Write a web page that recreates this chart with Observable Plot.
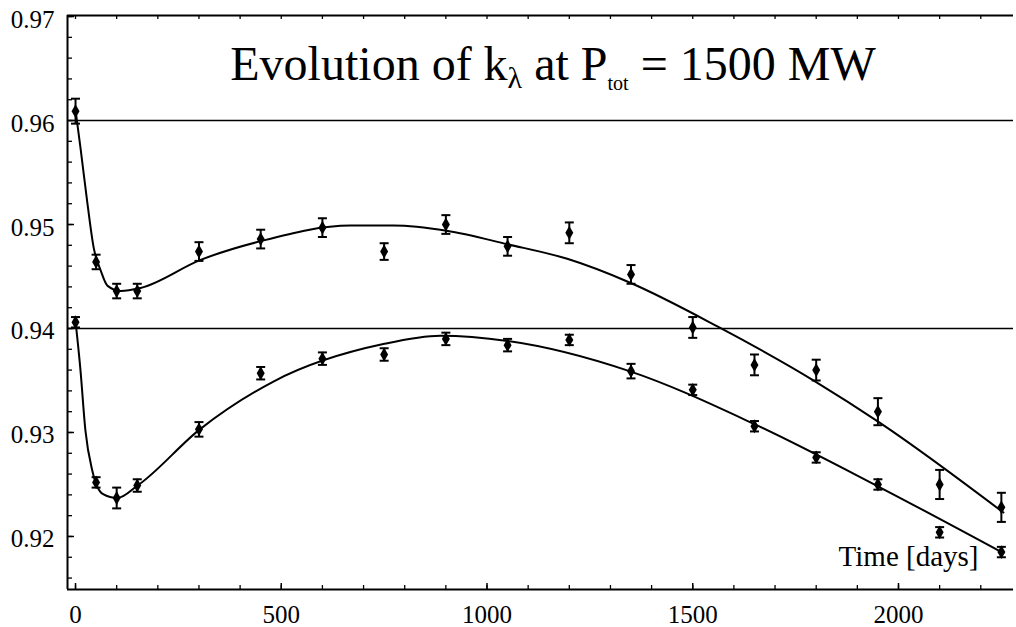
<!DOCTYPE html>
<html>
<head>
<meta charset="utf-8">
<script src="https://cdn.jsdelivr.net/npm/d3@7"></script>
<script src="https://cdn.jsdelivr.net/npm/@observablehq/plot@0.6"></script>
<style>
  html, body { margin: 0; padding: 0; background: #fff; }
  #chart { width: 1016px; height: 627px; }
</style>
</head>
<body>
<div id="chart"></div>
<script>
// ---- data ----
const days = [0, 50, 100, 150, 300, 450, 600, 750, 900, 1050, 1200, 1350, 1500, 1650, 1800, 1950, 2100, 2250];
const upperK   = [0.9609, 0.9464, 0.9436, 0.9436, 0.9474, 0.9486, 0.9497, 0.9474, 0.9500, 0.9479, 0.9492, 0.9452, 0.9401, 0.9365, 0.9360, 0.9320, 0.9250, 0.9228];
const upperErr = [0.0012, 0.0007, 0.0007, 0.0007, 0.0009, 0.0009, 0.0009, 0.0008, 0.0009, 0.0009, 0.0010, 0.0009, 0.0010, 0.0010, 0.0010, 0.0013, 0.0014, 0.0014];
const lowerK   = [0.9406, 0.9252, 0.9237, 0.9249, 0.9303, 0.9357, 0.9371, 0.9375, 0.9390, 0.9384, 0.9389, 0.9359, 0.9341, 0.9306, 0.9276, 0.9250, 0.9204, 0.9185];
const lowerErr = [0.0005, 0.0005, 0.0010, 0.0006, 0.0007, 0.0006, 0.0006, 0.0006, 0.0006, 0.0006, 0.0005, 0.0007, 0.0005, 0.0005, 0.0005, 0.0005, 0.0005, 0.0005];

// fitted curves
const upperFitDays = [0, 12, 29, 44, 61, 78, 110, 158, 304, 450, 668, 773, 902, 1050, 1195, 1348, 1560, 1798, 1956, 2255];
const upperFitK    = [0.9610, 0.9574, 0.9520, 0.9478, 0.9456, 0.9441, 0.9436, 0.9439, 0.9466, 0.9484, 0.9499, 0.9499, 0.9494, 0.9481, 0.9467, 0.9444, 0.9402, 0.9349, 0.9309, 0.9223];
const lowerFitDays = [0, 12, 24, 41, 66, 102, 151, 302, 481, 748, 887, 1050, 1346, 1650, 1951, 2255];
const lowerFitK    = [0.9407, 0.9360, 0.9302, 0.9263, 0.9241, 0.9237, 0.9249, 0.9303, 0.9349, 0.9385, 0.9393, 0.9388, 0.9359, 0.9308, 0.9248, 0.9184];

const refLines = [0.96, 0.94];
const yTickLabels = [0.92, 0.93, 0.94, 0.95, 0.96, 0.97];
const xTickLabels = [0, 500, 1000, 1500, 2000];
const yMinorTicks = d3.range(0.916, 0.9701, 0.002);
const xMinorTicks = d3.range(0, 2279, 100);
const xDomain = [-19.5, 2279.5];
const yDomain = [0.9149, 0.9701];
const xLabel = "Time [days]";
const titleParts = ["Evolution of k", "λ", " at P", "tot", " = 1500 MW"];

// ---- tables ----
const upperRows = days.map((d, i) => ({d, k: upperK[i], e: upperErr[i]}));
const lowerRows = days.map((d, i) => ({d, k: lowerK[i], e: lowerErr[i]}));
const upperFit = upperFitDays.map((d, i) => ({d, k: upperFitK[i]}));
const lowerFit = lowerFitDays.map((d, i) => ({d, k: lowerFitK[i]}));
const points = [...upperRows, ...lowerRows];

const capSymbol = {
  draw(context, size) {
    const w = Math.sqrt(size / Math.PI);
    context.moveTo(-w, 0);
    context.lineTo(w, 0);
  }
};

const W = 1016, H = 627, mL = 67, mR = 3, mT = 15, mB = 38;
const fw = W - mL - mR, fh = H - mT - mB;
const serif = "'Liberation Serif', 'DejaVu Serif', serif";

const svg = Plot.plot({
  width: W, height: H,
  marginLeft: mL, marginRight: mR, marginTop: mT, marginBottom: mB,
  x: {domain: xDomain, label: null},
  y: {domain: yDomain, label: null},
  style: {fontFamily: serif, fontSize: "25px", color: "black", background: "white"},
  marks: [
    // frame (left, top, bottom)
    Plot.ruleX([xDomain[0]], {stroke: "black", strokeWidth: 2}),
    Plot.ruleY([yDomain[0]], {stroke: "black", strokeWidth: 2}),
    Plot.ruleY([yDomain[1]], {stroke: "black", strokeWidth: 2}),
    // inward ticks
    Plot.tickY(yMinorTicks, {y: d => d, insetRight: fw - 5, stroke: "black", strokeWidth: 1.3}),
    Plot.tickY(yTickLabels, {y: d => d, insetRight: fw - 7, stroke: "black", strokeWidth: 1.5}),
    Plot.tickX(xMinorTicks, {x: d => d, insetTop: fh - 4, stroke: "black", strokeWidth: 1.3}),
    Plot.tickX(xMinorTicks, {x: d => d, insetBottom: fh - 4, stroke: "black", strokeWidth: 1.3}),
    Plot.tickX(xTickLabels, {x: d => d, insetTop: fh - 6, stroke: "black", strokeWidth: 1.5}),
    // axes labels
    Plot.axisY(yTickLabels, {tickSize: 0, tickPadding: 13, tickFormat: d3.format(".2f"), fontSize: 25, dy: 3}),
    Plot.axisX(xTickLabels, {tickSize: 0, tickPadding: 16, tickFormat: d => String(d), fontSize: 25}),
    // reference lines
    Plot.ruleY(refLines, {stroke: "black", strokeWidth: 1.6}),
    // fit curves
    Plot.line(upperFit, {x: "d", y: "k", curve: "monotone-x", stroke: "black", strokeWidth: 2}),
    Plot.line(lowerFit, {x: "d", y: "k", curve: "monotone-x", stroke: "black", strokeWidth: 2}),
    // error bars
    Plot.ruleX(points, {x: "d", y1: d => d.k - d.e, y2: d => d.k + d.e, stroke: "black", strokeWidth: 2}),
    Plot.dot(points, {x: "d", y: d => d.k + d.e, symbol: capSymbol, r: 4.5, stroke: "black", strokeWidth: 2, fill: "none"}),
    Plot.dot(points, {x: "d", y: d => d.k - d.e, symbol: capSymbol, r: 4.5, stroke: "black", strokeWidth: 2, fill: "none"}),
    // markers
    Plot.dot(points, {x: "d", y: "k", symbol: "diamond", r: 4.2, fill: "black", stroke: "none"}),
    // x label inside frame
    Plot.text([xLabel], {frameAnchor: "bottom-right", text: d => d, textAnchor: "end", dx: -35, dy: -24, fontSize: 29})
  ]
});

document.getElementById("chart").appendChild(svg);

// title with subscripts (inherits the serif family from the svg)
const title = d3.select(svg).append("text")
  .attr("x", 553).attr("y", 80)
  .attr("text-anchor", "middle")
  .attr("font-size", 48)
  .attr("fill", "black");
title.append("tspan").text(titleParts[0]);
title.append("tspan").attr("dy", 8).attr("font-size", 30).text(titleParts[1]);
title.append("tspan").attr("dy", -8).text(titleParts[2]);
title.append("tspan").attr("dy", 10).attr("font-size", 20).text(titleParts[3]);
title.append("tspan").attr("dy", -10).text(titleParts[4]);
</script>
</body>
</html>
